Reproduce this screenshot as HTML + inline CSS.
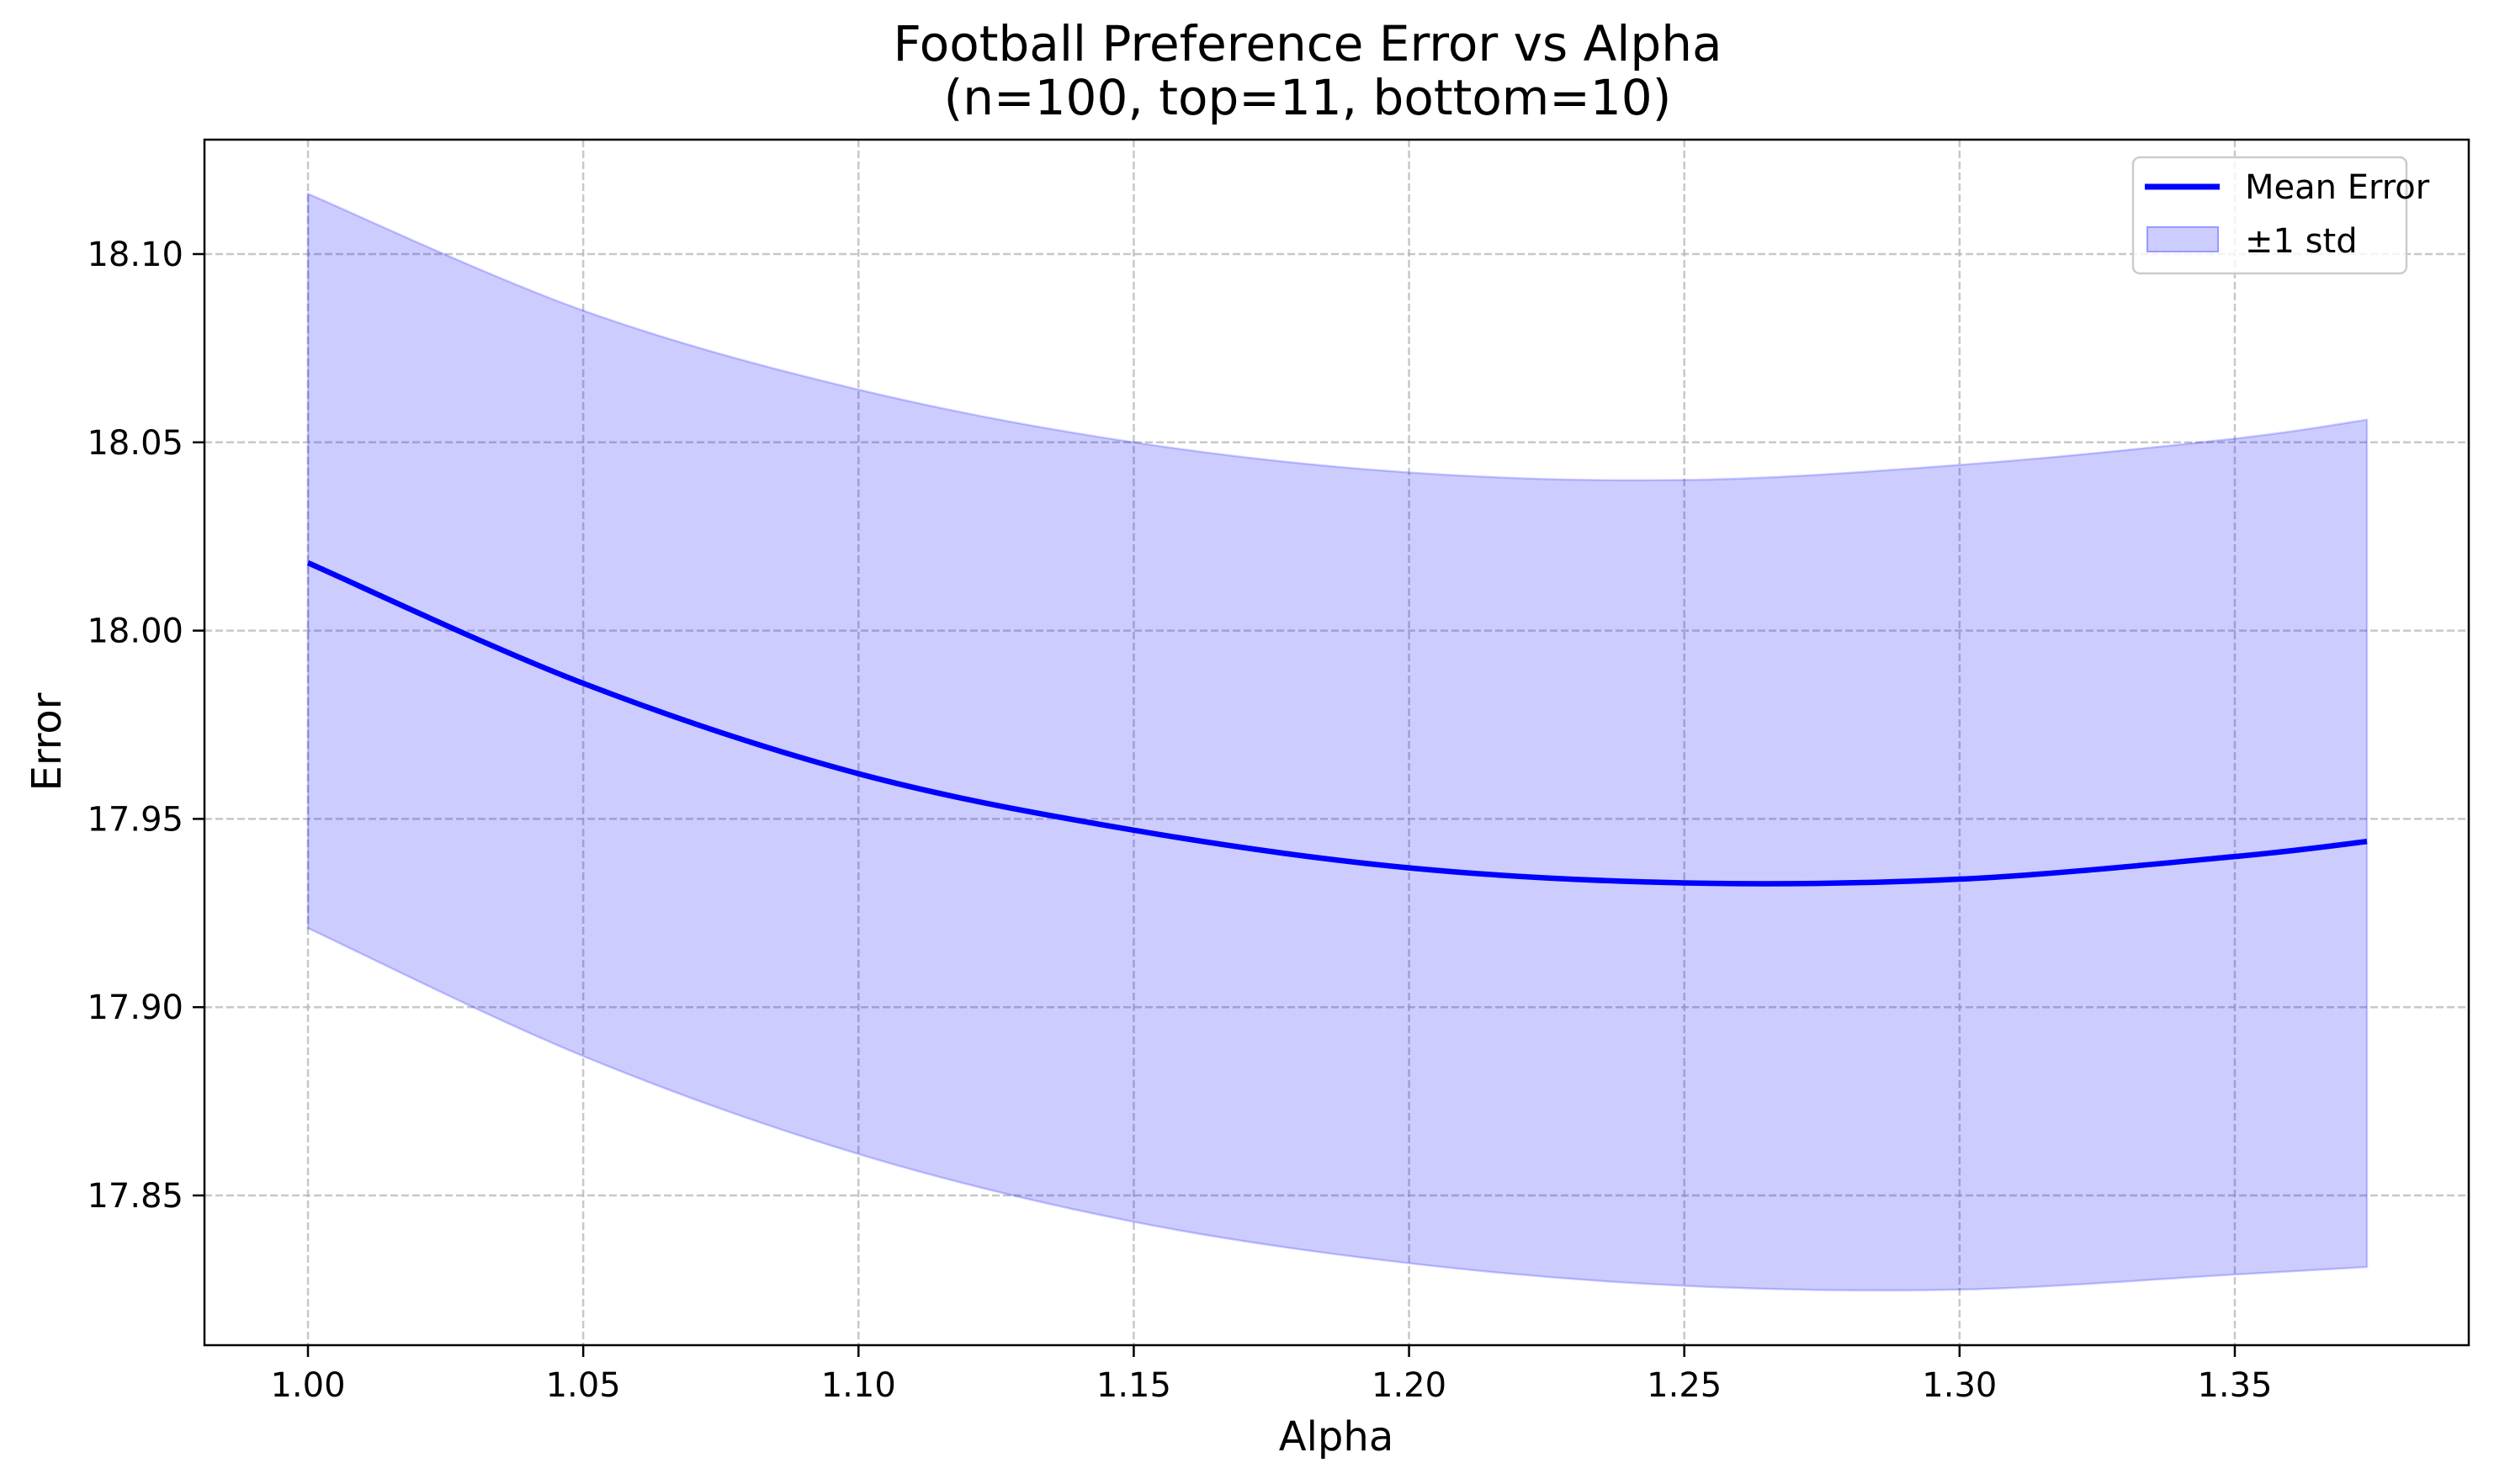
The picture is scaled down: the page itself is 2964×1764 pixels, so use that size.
<!DOCTYPE html>
<html><head><meta charset="utf-8"><style>
html,body{margin:0;padding:0;background:#fff;}
svg{display:block;font-family:"DejaVu Sans","Liberation Sans",sans-serif;}
</style></head><body>
<svg id="chart" width="2964" height="1764" viewBox="0 0 2964 1764">
<rect width="2964" height="1764" fill="#fff"/>
<g id="grid"></g>
<g id="series"></g>
<rect x="243" y="166" width="2691" height="1433" fill="none" stroke="#000" stroke-width="2.5"/>
<g id="ticks"></g>
<text x="1554" y="72" text-anchor="middle" font-size="58">Football Preference Error vs Alpha</text>
<text x="1554" y="136" text-anchor="middle" font-size="58">(n=100, top=11, bottom=10)</text>
<text x="1588" y="1724" text-anchor="middle" font-size="48">Alpha</text>
<text transform="translate(72,882) rotate(-90)" text-anchor="middle" font-size="48">Error</text>
<g>
<rect x="2535" y="187" width="325" height="138" rx="8" fill="#fff" fill-opacity="0.8" stroke="#ccc" stroke-width="2.5"/>
<line x1="2549" y1="222" x2="2638" y2="222" stroke="#0000ff" stroke-width="7"/>
<text x="2668" y="236" font-size="40">Mean Error</text>
<rect x="2552" y="270" width="84" height="29" fill="#ccccff" stroke="#9999ff" stroke-width="2"/>
<text x="2668" y="300" font-size="40">±1 std</text>
</g>
</svg>
<script>
const alphas=[1.00,1.05,1.10,1.15,1.20,1.25,1.30,1.35,1.374];
const meanErr=[18.018,17.986,17.962,17.947,17.937,17.933,17.934,17.940,17.944];
const upperErr=[18.116,18.085,18.064,18.050,18.042,18.040,18.044,18.051,18.056];
const lowerErr=[17.921,17.887,17.861,17.843,17.832,17.826,17.825,17.829,17.831];
const xTicks=[1.00,1.05,1.10,1.15,1.20,1.25,1.30,1.35];
const yTicks=[17.85,17.90,17.95,18.00,18.05,18.10];
const NS="http://www.w3.org/2000/svg";
const X=a=>366+(a-1.0)/0.05*327.14;
const Y=v=>302+(18.10-v)/0.05*223.8;
function mk(tag,attrs,parent){const e=document.createElementNS(NS,tag);for(const k in attrs)e.setAttribute(k,attrs[k]);parent.appendChild(e);return e;}
function smooth(xs,ys){
 const p=xs.map((a,i)=>[X(a),Y(ys[i])]);
 let d=`M${p[0][0]},${p[0][1]}`;
 for(let i=0;i<p.length-1;i++){
  const p0=p[Math.max(0,i-1)],p1=p[i],p2=p[i+1],p3=p[Math.min(p.length-1,i+2)];
  const c1=[p1[0]+(p2[0]-p0[0])/6,p1[1]+(p2[1]-p0[1])/6];
  const c2=[p2[0]-(p3[0]-p1[0])/6,p2[1]-(p3[1]-p1[1])/6];
  d+=` C${c1[0]},${c1[1]} ${c2[0]},${c2[1]} ${p2[0]},${p2[1]}`;
 }
 return d;
}
const grid=document.getElementById('grid'),ticks=document.getElementById('ticks'),series=document.getElementById('series');
xTicks.forEach(t=>{
 const x=X(t);
 const g=mk('line',{x1:x,x2:x,y1:166,y2:1599,stroke:'#b0b0b0','stroke-opacity':0.7,'stroke-width':2.5,'stroke-dasharray':'9,4'},grid);
 
 
 const tk=mk('line',{x1:x,x2:x,y1:1599,y2:1613,stroke:'#000','stroke-width':2.5},ticks);
 
 
 const tx=mk('text',{x:x,y:1660,'text-anchor':'middle','font-size':40},ticks);
 tx.textContent=t.toFixed(2);
 
 
});
yTicks.forEach(t=>{
 const y=Y(t);
 const g=mk('line',{x1:243,x2:2934,y1:y,y2:y,stroke:'#b0b0b0','stroke-opacity':0.7,'stroke-width':2.5,'stroke-dasharray':'9,4'},grid);
 
 
 const tk=mk('line',{x1:229,x2:243,y1:y,y2:y,stroke:'#000','stroke-width':2.5},ticks);
 
 
 const tx=mk('text',{x:218,y:y+14,'text-anchor':'end','font-size':40},ticks);
 tx.textContent=t.toFixed(2);
 
 
});
const up=smooth(alphas,upperErr);
const lowRev=smooth(alphas.slice().reverse(),lowerErr.slice().reverse());
const band=mk('path',{d:up+' L'+lowRev.slice(1)+' Z',fill:'#0000ff','fill-opacity':0.2,stroke:'#0000ff','stroke-opacity':0.2,'stroke-width':2.5},series);


const line=mk('path',{d:smooth(alphas,meanErr),fill:'none',stroke:'#0000ff','stroke-width':6.5},series);


</script>
</body></html>
